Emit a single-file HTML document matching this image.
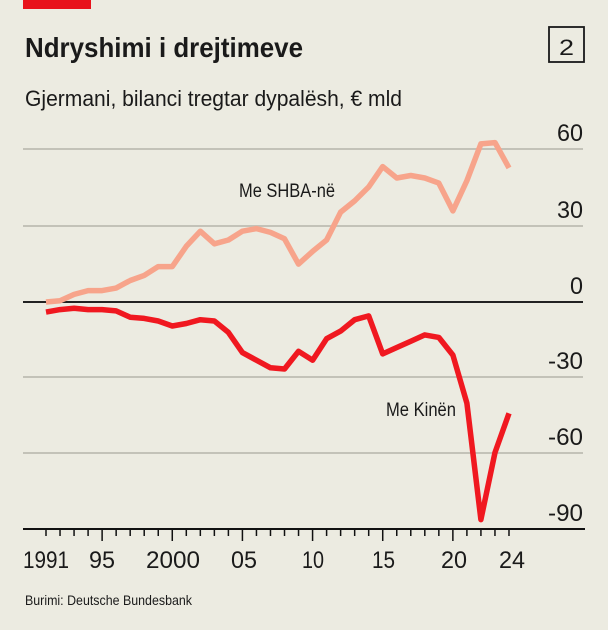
<!DOCTYPE html>
<html><head><meta charset="utf-8"><style>
html,body{margin:0;padding:0;background:#ecebe1;}
body{width:608px;height:625px;overflow:hidden;}
text{font-family:"Liberation Sans",sans-serif;}
</style></head><body>
<svg width="608" height="625" viewBox="0 0 608 625" xmlns="http://www.w3.org/2000/svg">
<rect width="608" height="625" fill="#ecebe1"/>
<rect x="23" y="0" width="68" height="9" fill="#e8121b"/>
<text x="25" y="57" font-size="28" font-weight="bold" fill="#1a1a1a" textLength="278" lengthAdjust="spacingAndGlyphs">Ndryshimi i drejtimeve</text>
<rect x="549" y="27" width="35" height="35" fill="none" stroke="#1a1a1a" stroke-width="1.8"/>
<text x="566.5" y="55" font-size="22" text-anchor="middle" fill="#1a1a1a" textLength="15" lengthAdjust="spacingAndGlyphs">2</text>
<text x="25" y="106" font-size="22" fill="#1a1a1a" textLength="377" lengthAdjust="spacingAndGlyphs">Gjermani, bilanci tregtar dypalësh, € mld</text>
<g stroke="#c3c2b8" stroke-width="2">
<line x1="23" y1="149" x2="583" y2="149"/>
<line x1="23" y1="226" x2="583" y2="226"/>
<line x1="23" y1="377" x2="583" y2="377"/>
<line x1="23" y1="453" x2="583" y2="453"/>
</g>
<line x1="23" y1="302" x2="583" y2="302" stroke="#222" stroke-width="2"/>
<line x1="23" y1="529" x2="585" y2="529" stroke="#111" stroke-width="2"/>
<g font-size="24" fill="#1a1a1a">
<text x="557" y="141" textLength="26" lengthAdjust="spacingAndGlyphs">60</text>
<text x="557" y="218" textLength="26" lengthAdjust="spacingAndGlyphs">30</text>
<text x="570" y="294" textLength="13" lengthAdjust="spacingAndGlyphs">0</text>
<text x="548" y="369" textLength="35" lengthAdjust="spacingAndGlyphs">-30</text>
<text x="548" y="445" textLength="35" lengthAdjust="spacingAndGlyphs">-60</text>
<text x="548" y="521" textLength="35" lengthAdjust="spacingAndGlyphs">-90</text>
</g>
<g stroke="#111" stroke-width="1.5" id="ticks"></g>
<g font-size="24" fill="#1a1a1a">
<text x="23" y="568" textLength="46" lengthAdjust="spacingAndGlyphs">1991</text>
<text x="89" y="568" textLength="26" lengthAdjust="spacingAndGlyphs">95</text>
<text x="146" y="568" textLength="54" lengthAdjust="spacingAndGlyphs">2000</text>
<text x="231" y="568" textLength="26" lengthAdjust="spacingAndGlyphs">05</text>
<text x="302" y="568" textLength="22" lengthAdjust="spacingAndGlyphs">10</text>
<text x="372" y="568" textLength="23" lengthAdjust="spacingAndGlyphs">15</text>
<text x="441" y="568" textLength="26" lengthAdjust="spacingAndGlyphs">20</text>
<text x="499" y="568" textLength="26" lengthAdjust="spacingAndGlyphs">24</text>
</g>
<text x="25" y="605" font-size="14" fill="#1a1a1a" textLength="167" lengthAdjust="spacingAndGlyphs">Burimi: Deutsche Bundesbank</text>
<polyline id="us" fill="none" stroke="#f7a48b" stroke-width="5.5" stroke-linejoin="round"/>
<polyline id="cn" fill="none" stroke="#f01820" stroke-width="5.5" stroke-linejoin="round"/>
<text x="239" y="197" font-size="19" fill="#1a1a1a" textLength="96" lengthAdjust="spacingAndGlyphs">Me SHBA-në</text>
<text x="386" y="416" font-size="19" fill="#1a1a1a" textLength="70" lengthAdjust="spacingAndGlyphs">Me Kinën</text>
</svg>
<script>
var us=[0,0.5,3,4.5,4.5,5.5,8.5,10.5,14,14,22,28,23,24.5,28,29,27.5,25,15,20,24.5,35.5,40,45.5,53.5,49,50,49,47,36,48,62.5,63,53];
var cn=[-4,-3,-2.5,-3,-3,-3.5,-6,-6.5,-7.5,-9.5,-8.5,-7,-7.5,-12,-20,-23,-26,-26.5,-19.5,-23,-14.5,-11.5,-7,-5.5,-20.5,-18,-15.5,-13,-14,-21,-40,-86,-59.5,-44];
function pts(a){return a.map(function(v,i){return (46+14.03*i).toFixed(1)+","+(302-2.53*v).toFixed(1)}).join(" ");}
document.getElementById("us").setAttribute("points",pts(us));
document.getElementById("cn").setAttribute("points",pts(cn));
var g=document.getElementById("ticks"),s="";
for(var i=0;i<34;i++){var x=46+14.03*i,y=1991+i,l=(y%5==0)?12:7;
s+='<line x1="'+x+'" y1="529" x2="'+x+'" y2="'+(529+l)+'"/>';}
g.innerHTML=s;
</script>
</body></html>
